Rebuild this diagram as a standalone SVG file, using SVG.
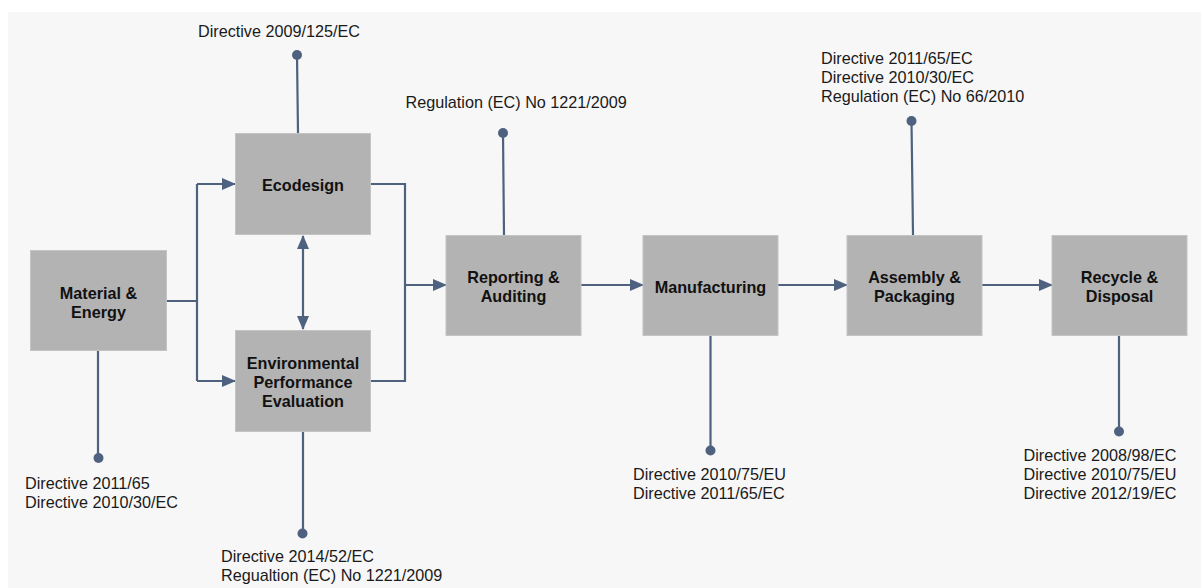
<svg xmlns="http://www.w3.org/2000/svg" width="1203" height="588" viewBox="0 0 1203 588">
  <style>
    .box { fill: #b3b3b3; stroke: #c4c4c4; stroke-width: 1; }
    .label { font-family: "Liberation Sans", Arial, sans-serif; font-size: 16.2px; font-weight: bold; fill: #111; text-anchor: middle; }
    .note { font-family: "Liberation Sans", Arial, sans-serif; font-size: 16.2px; fill: #1a1a1a; }
    .wire { fill: none; stroke: #4e6280; stroke-width: 2.2; }
    .dot { fill: #4e6280; }
  </style>
  <defs>
    <marker id="arrow" viewBox="0 0 14 12" refX="13" refY="6" markerWidth="14" markerHeight="12" markerUnits="userSpaceOnUse" orient="auto-start-reverse">
      <path d="M0,0 L14,6 L0,12 Z" fill="#4e6280"/>
    </marker>
  </defs>

  <!-- canvas -->
  <rect x="0" y="0" width="1203" height="588" fill="#ffffff"/>
  <rect x="8" y="12" width="1193" height="576" fill="#f7f7f7"/>

  <!-- connectors -->
  <g id="connectors">
    <!-- Material & Energy splits to Ecodesign and Evaluation -->
    <path class="wire" d="M166,301 H197 M197,184 V381"/>
    <path class="wire" d="M197,184 H235" marker-end="url(#arrow)"/>
    <path class="wire" d="M197,381 H235" marker-end="url(#arrow)"/>
    <!-- Ecodesign <-> Evaluation -->
    <path class="wire" d="M303,236 V329" marker-start="url(#arrow)" marker-end="url(#arrow)"/>
    <!-- merge into Reporting & Auditing -->
    <path class="wire" d="M370,184 H405 V381 H370"/>
    <path class="wire" d="M405,285 H446" marker-end="url(#arrow)"/>
    <!-- main flow -->
    <path class="wire" d="M581,285 H643" marker-end="url(#arrow)"/>
    <path class="wire" d="M778,285 H847" marker-end="url(#arrow)"/>
    <path class="wire" d="M982,285 H1052" marker-end="url(#arrow)"/>

    <!-- regulation pins -->
    <path class="wire" d="M297,55 L298,133"/>
    <circle class="dot" cx="297" cy="55" r="5"/>
    <path class="wire" d="M98,351 V458"/>
    <circle class="dot" cx="98.5" cy="458" r="5"/>
    <path class="wire" d="M303,432 V533"/>
    <circle class="dot" cx="302.5" cy="533.5" r="5"/>
    <path class="wire" d="M503,133 L504,235"/>
    <circle class="dot" cx="503" cy="133" r="5"/>
    <path class="wire" d="M911.5,121 L913,235"/>
    <circle class="dot" cx="911.5" cy="121" r="5"/>
    <path class="wire" d="M710.5,336 V450"/>
    <circle class="dot" cx="710.5" cy="450.5" r="5"/>
    <path class="wire" d="M1119,336 V431"/>
    <circle class="dot" cx="1119" cy="431.5" r="5"/>
  </g>

  <!-- nodes -->
  <g id="material-energy">
    <rect class="box" x="30.5" y="250.5" width="136" height="100"/>
    <text class="label" x="98.5" y="298.5">Material &amp;</text>
    <text class="label" x="98.5" y="317.5">Energy</text>
  </g>
  <g id="ecodesign">
    <rect class="box" x="235.5" y="133.5" width="135" height="101"/>
    <text class="label" x="303" y="190.5">Ecodesign</text>
  </g>
  <g id="env-evaluation">
    <rect class="box" x="235.5" y="330.5" width="135" height="101"/>
    <text class="label" x="303" y="368.5">Environmental</text>
    <text class="label" x="303" y="387.5">Performance</text>
    <text class="label" x="303" y="406.5">Evaluation</text>
  </g>
  <g id="reporting-auditing">
    <rect class="box" x="446" y="235.5" width="135" height="100"/>
    <text class="label" x="513.5" y="283">Reporting &amp;</text>
    <text class="label" x="513.5" y="302">Auditing</text>
  </g>
  <g id="manufacturing">
    <rect class="box" x="643" y="235.5" width="135" height="100"/>
    <text class="label" x="710.5" y="292.5">Manufacturing</text>
  </g>
  <g id="assembly-packaging">
    <rect class="box" x="847" y="235.5" width="135" height="100"/>
    <text class="label" x="914.5" y="282.5">Assembly &amp;</text>
    <text class="label" x="914.5" y="301.5">Packaging</text>
  </g>
  <g id="recycle-disposal">
    <rect class="box" x="1052" y="235.5" width="135" height="100"/>
    <text class="label" x="1119.5" y="282.5">Recycle &amp;</text>
    <text class="label" x="1119.5" y="301.5">Disposal</text>
  </g>

  <!-- regulation labels -->
  <g id="regulations">
    <text class="note" x="198" y="37">Directive 2009/125/EC</text>
    <text class="note" x="25" y="488.5">Directive 2011/65</text>
    <text class="note" x="25" y="508">Directive 2010/30/EC</text>
    <text class="note" x="221" y="562">Directive 2014/52/EC</text>
    <text class="note" x="221" y="581">Regualtion (EC) No 1221/2009</text>
    <text class="note" x="405.5" y="107.5">Regulation (EC) No 1221/2009</text>
    <text class="note" x="633" y="480">Directive 2010/75/EU</text>
    <text class="note" x="633" y="499">Directive 2011/65/EC</text>
    <text class="note" x="821" y="63.5">Directive 2011/65/EC</text>
    <text class="note" x="821" y="83">Directive 2010/30/EC</text>
    <text class="note" x="821" y="102">Regulation (EC) No 66/2010</text>
    <text class="note" x="1023.5" y="461">Directive 2008/98/EC</text>
    <text class="note" x="1023.5" y="480">Directive 2010/75/EU</text>
    <text class="note" x="1023.5" y="499">Directive 2012/19/EC</text>
  </g>
</svg>
